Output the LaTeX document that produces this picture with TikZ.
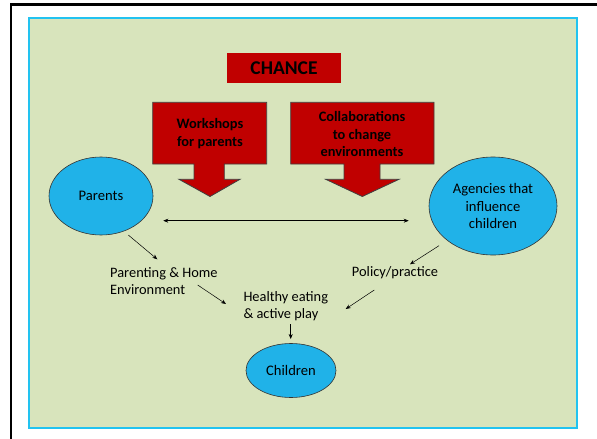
\documentclass[tikz,border=0pt]{standalone}
\usepackage{fontspec}
\setmainfont{Carlito}
\usetikzlibrary{calc,arrows.meta,shapes.geometric}
\definecolor{bggreen}{HTML}{D8E4BC}
\definecolor{cyanline}{HTML}{22C3F0}
\definecolor{boxred}{HTML}{C00000}
\definecolor{ellfill}{HTML}{20B2E8}
\tikzset{
  redbox/.style={fill=boxred, draw=black!75, line width=0.8pt},
  boxtext/.style={align=center, font=\fontsize{14.4}{17.8}\selectfont\bfseries, inner sep=0pt},
  ellnode/.style={ellipse, draw=black!80, line width=0.6pt, fill=ellfill, inner sep=0pt, align=center, font=\fontsize{14.6}{17.8}\selectfont},
  plaintext/.style={inner sep=0pt, font=\fontsize{14.4}{17.3}\selectfont},
  arr/.style={-{Stealth[length=5pt,width=4pt]}, line width=0.5pt, black},
  dblarr/.style={{Stealth[length=5pt,width=4pt]}-{Stealth[length=5pt,width=4pt]}, line width=0.5pt, black}
}
\begin{document}
\begin{tikzpicture}[x=1pt,y=-1pt]
\useasboundingbox (0,0) rectangle (597,439);
\fill[white] (0,0) rectangle (597,439);
% outer black frame
\draw[black, line width=2.5pt] (11,445) -- (11,4.5) -- (600,4.5);
% green panel
\draw[cyanline, line width=1.8pt, fill=bggreen] (29.3,18.3) rectangle (576.7,427.7);
% CHANCE box
\node[fill=boxred, minimum width=113.4pt, minimum height=29.4pt, inner sep=0pt,
      font=\fontsize{19.5}{22}\selectfont\bfseries] (chance) at (284,68) {CHANCE};
% block arrows
\draw[redbox] (152.7,102.3) -- (266.7,102.3) -- (266.7,164) -- (224.3,164) -- (224.3,179.3)
  -- (240,179.3) -- (210,196.5) -- (179,179.3) -- (194,179.3) -- (194,164) -- (152.7,164) -- cycle;
\node[boxtext] (workshops) at (210,133.5) {Workshops\\for parents};
\draw[redbox] (290.7,102.3) -- (434,102.3) -- (434,164) -- (380,164) -- (380,179.3)
  -- (399,179.3) -- (362.3,196.5) -- (325.7,179.3) -- (344,179.3) -- (344,164) -- (290.7,164) -- cycle;
\node[boxtext] (collab) at (362,134) {Collaborations\\to change\\environments};
% ellipses
\node[ellnode, minimum width=104pt, minimum height=78pt] (parents) at (101,196) {Parents};
\node[ellnode, minimum width=128pt, minimum height=98pt] (agencies) at (493,206) {Agencies that\\influence\\children};
\node[ellnode, minimum width=90pt, minimum height=54pt] (children) at (291,370.5) {Children};
% texts
\node[plaintext, align=left, anchor=west] (parenting) at (110,281.3) {Parenting \& Home\\Environment};
\node[plaintext] (policy) at (395,272.7) {Policy/practice};
\node[plaintext, align=left, anchor=west] (healthy) at (243.3,306.3) {Healthy eating\\\& active play};
% connectors
\draw[dblarr] ($(parents.east)+(10,24.7)$) -- ($(agencies.west)+(-20,14.7)$);
\draw[arr] ($(parents.center)+(27.3,39)$) -- ($(parenting.west)+(47.3,-22)$);
\draw[arr] ($(parenting.west)+(87.7,3.7)$) -- ($(healthy.west)+(-17.3,-2.3)$);
\draw[arr] ($(agencies.center)+(-54,39.7)$) -- ($(policy.center)+(15,-8.4)$);
\draw[arr] ($(policy.center)+(-20.7,17.3)$) -- ($(healthy.west)+(102.4,2.7)$);
\draw[arr] ($(healthy.west)+(47.4,18)$) -- ($(children.north)+(-0.3,-4.2)$);
\end{tikzpicture}
\end{document}
